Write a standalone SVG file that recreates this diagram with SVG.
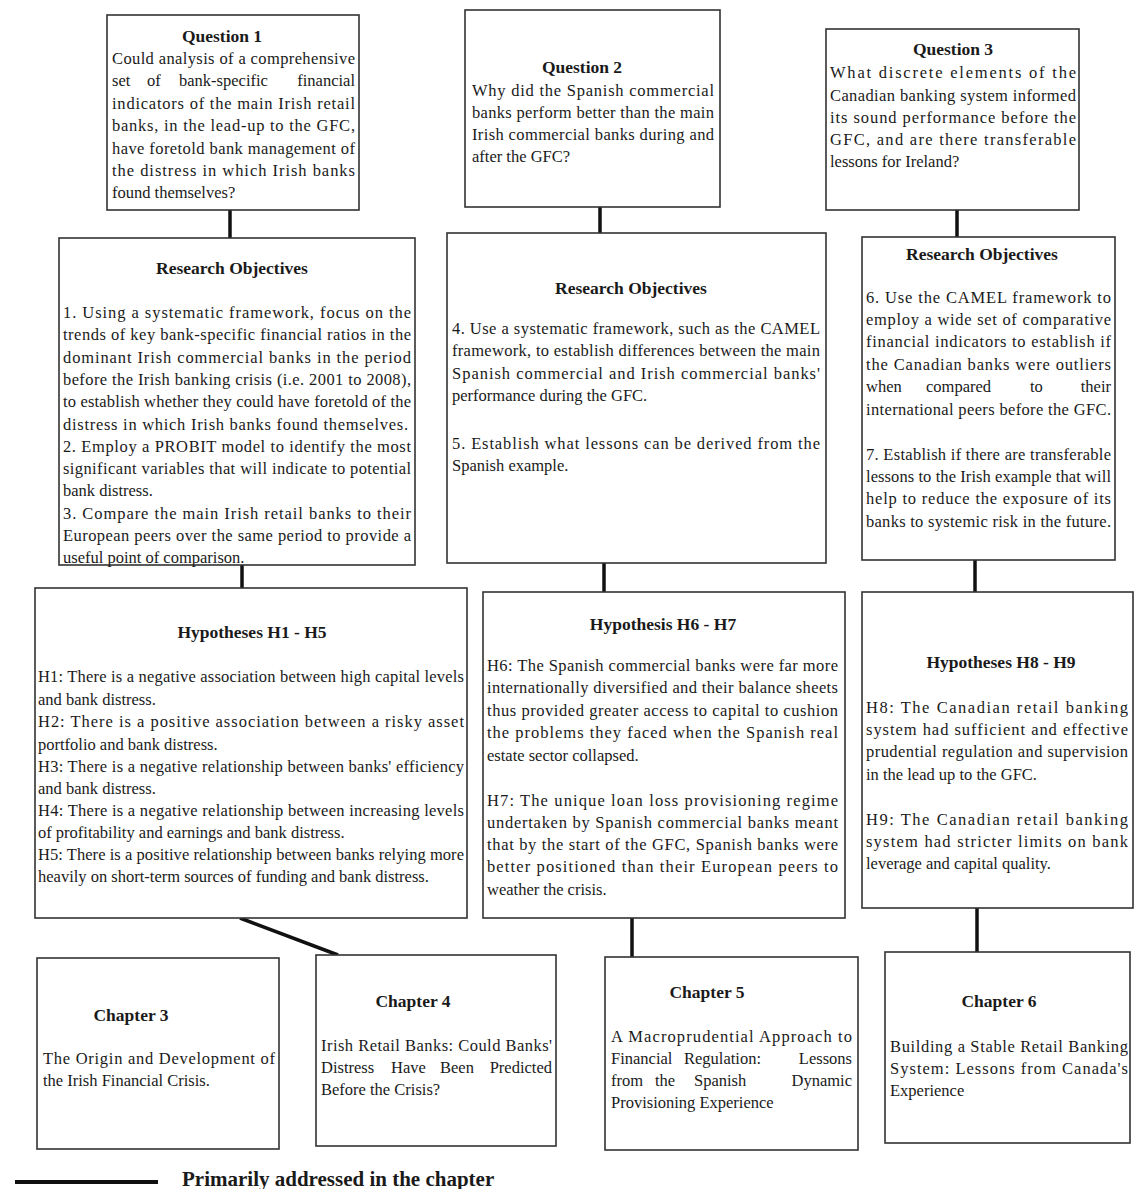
<svg xmlns="http://www.w3.org/2000/svg" width="1136" height="1189" viewBox="0 0 1136 1189">
<style>
.box{fill:#fff;stroke:#333;stroke-width:1.6}
text{font-family:"Liberation Serif","Times New Roman",serif;font-size:16.5px;fill:#1a1a1a}
.h{font-weight:bold;text-anchor:middle;font-size:17.5px}
.e{text-anchor:end}
.c line{stroke:#111;stroke-width:3.5}
.lg{font-weight:bold;font-size:21px}
</style>
<rect width="1136" height="1189" fill="#fff"/>
<g class="c" id="connectors">
<line x1="230" y1="210" x2="230" y2="238"/>
<line x1="600" y1="207" x2="600" y2="233"/>
<line x1="957" y1="210" x2="957" y2="237"/>
<line x1="242" y1="565" x2="242" y2="588"/>
<line x1="604" y1="563" x2="604" y2="592"/>
<line x1="975" y1="560" x2="975" y2="592"/>
<line x1="240" y1="918" x2="338" y2="955"/>
<line x1="632" y1="918" x2="632" y2="957"/>
<line x1="977" y1="908" x2="977" y2="952"/>
</g>
<g id="q1">
<rect class="box" x="107" y="15" width="252" height="195"/>
<text class="h" x="222" y="42">Question 1</text>
<text x="112" y="64" textLength="243" lengthAdjust="spacing">Could analysis of a comprehensive</text>
<text x="112" y="86">set</text>
<text x="147" y="86">of</text>
<text x="179" y="86">bank-specific</text>
<text class="e" x="355" y="86">financial</text>
<text x="112" y="109" textLength="243" lengthAdjust="spacing">indicators of the main Irish retail</text>
<text x="112" y="131" textLength="243" lengthAdjust="spacing">banks, in the lead-up to the GFC,</text>
<text x="112" y="154" textLength="243" lengthAdjust="spacing">have foretold bank management of</text>
<text x="112" y="176" textLength="243" lengthAdjust="spacing">the distress in which Irish banks</text>
<text x="112" y="198">found themselves?</text>
</g>
<g id="q2">
<rect class="box" x="465" y="10" width="255" height="197"/>
<text class="h" x="582" y="73">Question 2</text>
<text x="472" y="96" textLength="242" lengthAdjust="spacing">Why did the Spanish commercial</text>
<text x="472" y="118" textLength="242" lengthAdjust="spacing">banks perform better than the main</text>
<text x="472" y="140" textLength="242" lengthAdjust="spacing">Irish commercial banks during and</text>
<text x="472" y="162">after the GFC?</text>
</g>
<g id="q3">
<rect class="box" x="826" y="29" width="253" height="181"/>
<text class="h" x="953" y="55">Question 3</text>
<text x="830" y="78" textLength="246" lengthAdjust="spacing">What discrete elements of the</text>
<text x="830" y="101" textLength="246" lengthAdjust="spacing">Canadian banking system informed</text>
<text x="830" y="123" textLength="246" lengthAdjust="spacing">its sound performance before the</text>
<text x="830" y="145" textLength="246" lengthAdjust="spacing">GFC, and are there transferable</text>
<text x="830" y="167">lessons for Ireland?</text>
</g>
<g id="ro1">
<rect class="box" x="59" y="238" width="356" height="327"/>
<text class="h" x="232" y="274">Research Objectives</text>
<text x="63" y="318" textLength="348" lengthAdjust="spacing">1. Using a systematic framework, focus on the</text>
<text x="63" y="340" textLength="348" lengthAdjust="spacing">trends of key bank-specific financial ratios in the</text>
<text x="63" y="363" textLength="348" lengthAdjust="spacing">dominant Irish commercial banks in the period</text>
<text x="63" y="385" textLength="348" lengthAdjust="spacing">before the Irish banking crisis (i.e. 2001 to 2008),</text>
<text x="63" y="407" textLength="348" lengthAdjust="spacing">to establish whether they could have foretold of the</text>
<text x="63" y="430" textLength="345" lengthAdjust="spacing">distress in which Irish banks found themselves.</text>
<text x="63" y="452" textLength="348" lengthAdjust="spacing">2. Employ a PROBIT model to identify the most</text>
<text x="63" y="474" textLength="348" lengthAdjust="spacing">significant variables that will indicate to potential</text>
<text x="63" y="496">bank distress.</text>
<text x="63" y="519" textLength="348" lengthAdjust="spacing">3. Compare the main Irish retail banks to their</text>
<text x="63" y="541" textLength="348" lengthAdjust="spacing">European peers over the same period to provide a</text>
<text x="63" y="563">useful point of comparison.</text>
</g>
<g id="ro2">
<rect class="box" x="447" y="233" width="379" height="330"/>
<text class="h" x="631" y="294">Research Objectives</text>
<text x="452" y="334" textLength="368" lengthAdjust="spacing">4. Use a systematic framework, such as the CAMEL</text>
<text x="452" y="356" textLength="368" lengthAdjust="spacing">framework, to establish differences between the main</text>
<text x="452" y="379" textLength="368" lengthAdjust="spacing">Spanish commercial and Irish commercial banks'</text>
<text x="452" y="401">performance during the GFC.</text>
<text x="452" y="449" textLength="368" lengthAdjust="spacing">5. Establish what lessons can be derived from the</text>
<text x="452" y="471">Spanish example.</text>
</g>
<g id="ro3">
<rect class="box" x="862" y="237" width="253" height="323"/>
<text class="h" x="982" y="260">Research Objectives</text>
<text x="866" y="303" textLength="245" lengthAdjust="spacing">6. Use the CAMEL framework to</text>
<text x="866" y="325" textLength="245" lengthAdjust="spacing">employ a wide set of comparative</text>
<text x="866" y="347" textLength="245" lengthAdjust="spacing">financial indicators to establish if</text>
<text x="866" y="370" textLength="245" lengthAdjust="spacing">the Canadian banks were outliers</text>
<text x="866" y="392">when</text>
<text x="926" y="392">compared</text>
<text x="1030" y="392">to</text>
<text class="e" x="1111" y="392">their</text>
<text x="866" y="415" textLength="245" lengthAdjust="spacing">international peers before the GFC.</text>
<text x="866" y="460" textLength="245" lengthAdjust="spacing">7. Establish if there are transferable</text>
<text x="866" y="482" textLength="245" lengthAdjust="spacing">lessons to the Irish example that will</text>
<text x="866" y="504" textLength="245" lengthAdjust="spacing">help to reduce the exposure of its</text>
<text x="866" y="527" textLength="245" lengthAdjust="spacing">banks to systemic risk in the future.</text>
</g>
<g id="h1h5">
<rect class="box" x="35" y="588" width="432" height="330"/>
<text class="h" x="252" y="638">Hypotheses H1 - H5</text>
<text x="38" y="682" textLength="426" lengthAdjust="spacing">H1: There is a negative association between high capital levels</text>
<text x="38" y="705">and bank distress.</text>
<text x="38" y="727" textLength="426" lengthAdjust="spacing">H2: There is a positive association between a risky asset</text>
<text x="38" y="750">portfolio and bank distress.</text>
<text x="38" y="772" textLength="426" lengthAdjust="spacing">H3: There is a negative relationship between banks' efficiency</text>
<text x="38" y="794">and bank distress.</text>
<text x="38" y="816" textLength="426" lengthAdjust="spacing">H4: There is a negative relationship between increasing levels</text>
<text x="38" y="838">of profitability and earnings and bank distress.</text>
<text x="38" y="860" textLength="426" lengthAdjust="spacing">H5: There is a positive relationship between banks relying more</text>
<text x="38" y="882">heavily on short-term sources of funding and bank distress.</text>
</g>
<g id="h6h7">
<rect class="box" x="483" y="592" width="362" height="326"/>
<text class="h" x="663" y="630">Hypothesis H6 - H7</text>
<text x="487" y="671" textLength="351" lengthAdjust="spacing">H6: The Spanish commercial banks were far more</text>
<text x="487" y="693" textLength="351" lengthAdjust="spacing">internationally diversified and their balance sheets</text>
<text x="487" y="716" textLength="351" lengthAdjust="spacing">thus provided greater access to capital to cushion</text>
<text x="487" y="738" textLength="351" lengthAdjust="spacing">the problems they faced when the Spanish real</text>
<text x="487" y="761">estate sector collapsed.</text>
<text x="487" y="806" textLength="351" lengthAdjust="spacing">H7: The unique loan loss provisioning regime</text>
<text x="487" y="828" textLength="351" lengthAdjust="spacing">undertaken by Spanish commercial banks meant</text>
<text x="487" y="850" textLength="351" lengthAdjust="spacing">that by the start of the GFC, Spanish banks were</text>
<text x="487" y="872" textLength="351" lengthAdjust="spacing">better positioned than their European peers to</text>
<text x="487" y="895">weather the crisis.</text>
</g>
<g id="h8h9">
<rect class="box" x="862" y="592" width="271" height="316"/>
<text class="h" x="1001" y="668">Hypotheses H8 - H9</text>
<text x="866" y="713" textLength="262" lengthAdjust="spacing">H8: The Canadian retail banking</text>
<text x="866" y="735" textLength="262" lengthAdjust="spacing">system had sufficient and effective</text>
<text x="866" y="757" textLength="262" lengthAdjust="spacing">prudential regulation and supervision</text>
<text x="866" y="780">in the lead up to the GFC.</text>
<text x="866" y="825" textLength="262" lengthAdjust="spacing">H9: The Canadian retail banking</text>
<text x="866" y="847" textLength="262" lengthAdjust="spacing">system had stricter limits on bank</text>
<text x="866" y="869">leverage and capital quality.</text>
</g>
<g id="ch3">
<rect class="box" x="37" y="958" width="242" height="191"/>
<text class="h" x="131" y="1021">Chapter 3</text>
<text x="43" y="1064" textLength="232" lengthAdjust="spacing">The Origin and Development of</text>
<text x="43" y="1086">the Irish Financial Crisis.</text>
</g>
<g id="ch4">
<rect class="box" x="316" y="955" width="240" height="191"/>
<text class="h" x="413" y="1007">Chapter 4</text>
<text x="321" y="1051" textLength="231" lengthAdjust="spacing">Irish Retail Banks: Could Banks'</text>
<text x="321" y="1073">Distress</text>
<text x="391" y="1073">Have</text>
<text x="440" y="1073">Been</text>
<text class="e" x="552" y="1073">Predicted</text>
<text x="321" y="1095">Before the Crisis?</text>
</g>
<g id="ch5">
<rect class="box" x="605" y="957" width="253" height="193"/>
<text class="h" x="707" y="998">Chapter 5</text>
<text x="611" y="1042" textLength="241" lengthAdjust="spacing">A Macroprudential Approach to</text>
<text x="611" y="1064">Financial</text>
<text x="684" y="1064">Regulation:</text>
<text class="e" x="852" y="1064">Lessons</text>
<text x="611" y="1086">from</text>
<text x="655" y="1086">the</text>
<text x="694" y="1086">Spanish</text>
<text class="e" x="852" y="1086">Dynamic</text>
<text x="611" y="1108">Provisioning Experience</text>
</g>
<g id="ch6">
<rect class="box" x="885" y="952" width="245" height="191"/>
<text class="h" x="999" y="1007">Chapter 6</text>
<text x="890" y="1052" textLength="238" lengthAdjust="spacing">Building a Stable Retail Banking</text>
<text x="890" y="1074" textLength="238" lengthAdjust="spacing">System: Lessons from Canada's</text>
<text x="890" y="1096">Experience</text>
</g>
<g id="legend">
<line x1="15" y1="1182" x2="158" y2="1182" stroke="#111" stroke-width="4"/>
<text class="lg" x="182" y="1186">Primarily addressed in the chapter</text>
</g>
</svg>
